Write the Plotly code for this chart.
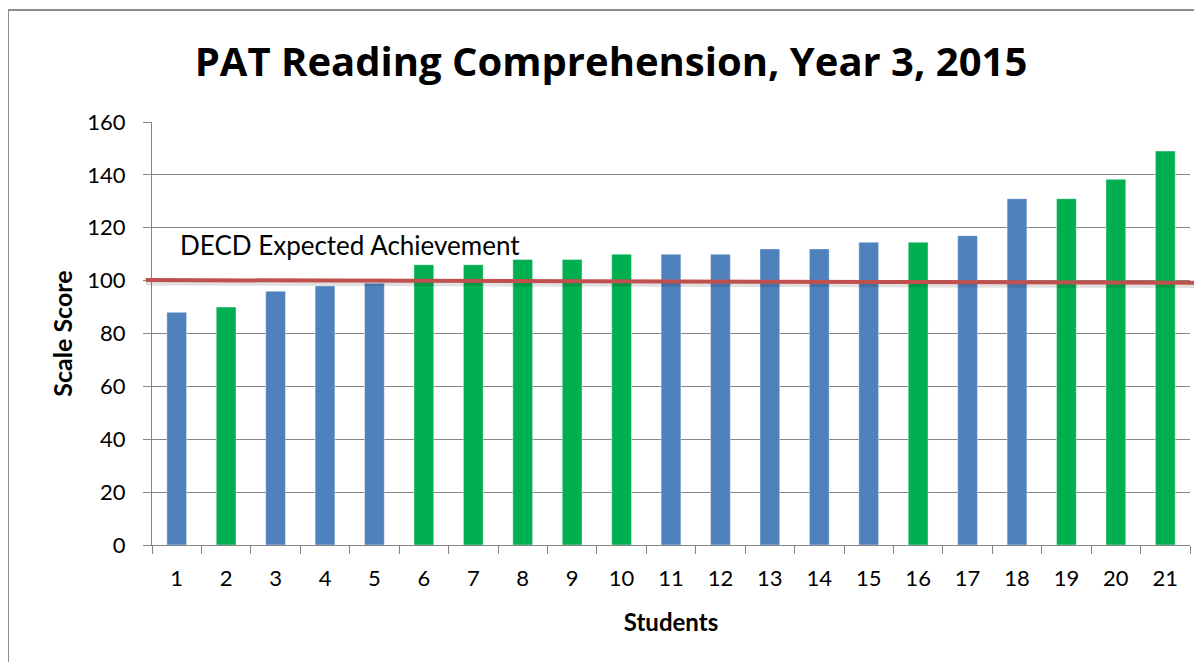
import plotly.graph_objects as go

# scale scores, one bar per student
students = [str(i) for i in range(1, 22)]
scores = [88, 90, 96, 98, 99, 106, 106, 108, 108, 110, 110,
          110, 112, 112, 114.5, 114.5, 117, 131, 131, 138.3, 149]
groups = ["b", "g", "b", "b", "b", "g", "g", "g", "g", "g", "b",
          "b", "b", "b", "b", "g", "b", "b", "g", "g", "g"]
y_ticks = [0, 20, 40, 60, 80, 100, 120, 140, 160]
expected_start = 100.2
expected_end = 99.2

BLUE = "#4F81BD"
GREEN = "#00B050"
RED = "#C0504D"
FONT = "Lato"

bar_colors = [BLUE if g == "b" else GREEN for g in groups]

fig = go.Figure()
fig.add_trace(go.Bar(x=students, y=scores, marker_color=bar_colors,
                     marker_line=dict(color="rgba(255,255,255,0.4)", width=1),
                     width=0.4, hoverinfo="x+y"))

# DECD expected achievement line (a drawn line in the original, slight tilt), with soft shadow
fig.add_shape(type="line", xref="paper", yref="y", x0=-0.006, x1=1.005,
              y0=expected_start - 0.9, y1=expected_end - 0.9,
              line=dict(color="rgba(0,0,0,0.12)", width=6), layer="above")
fig.add_shape(type="line", xref="paper", yref="y", x0=-0.006, x1=1.005,
              y0=expected_start, y1=expected_end,
              line=dict(color=RED, width=4), layer="above")
fig.add_annotation(text="DECD Expected Achievement", xref="paper", yref="y",
                   x=0.025, y=113.5, xanchor="left", yanchor="middle",
                   showarrow=False, font=dict(family=FONT, size=26, color="#000"))

# outer chart border (page body adds an 8px offset, so the figure itself is a bit smaller)
fig.add_shape(type="rect", xref="paper", yref="paper",
              x0=-144 / 1038, x1=1.05, y0=-0.4, y1=1 + 112 / 423,
              line=dict(color="#8C8C8C", width=2), fillcolor="rgba(0,0,0,0)", layer="below")

fig.update_layout(
    width=1194, height=654,
    margin=dict(l=144, r=12, t=114, b=117, autoexpand=False),
    paper_bgcolor="white", plot_bgcolor="white",
    showlegend=False,
    title=dict(text="<b>PAT Reading Comprehension, Year 3, 2015</b>",
               x=603 / 1194, xanchor="center", y=1 - 54 / 654, yanchor="middle",
               xref="container", yref="container",
               font=dict(family="Open Sans", size=40, color="#000")),
    font=dict(family=FONT, color="#000"),
    bargap=0.6,
)
fig.update_xaxes(type="category", automargin=False, showgrid=False, showline=True,
                 linecolor="#868686", linewidth=1, ticks="outside", tickson="boundaries",
                 ticklen=8, tickcolor="#868686", tickfont=dict(size=22), ticklabelstandoff=14,
                 title=dict(text="<b>Students</b>", font=dict(size=24), standoff=23))
fig.update_yaxes(range=[0, 160], tickvals=y_ticks, automargin=False, showgrid=True,
                 gridcolor="#868686", gridwidth=1, showline=True, linecolor="#868686",
                 linewidth=1, ticks="outside", ticklen=8, tickcolor="#868686",
                 tickfont=dict(size=22), ticklabelstandoff=13, zeroline=False,
                 title=dict(text="<b>Scale Score</b>", font=dict(size=25), standoff=7))

fig.write_html("out.html")
